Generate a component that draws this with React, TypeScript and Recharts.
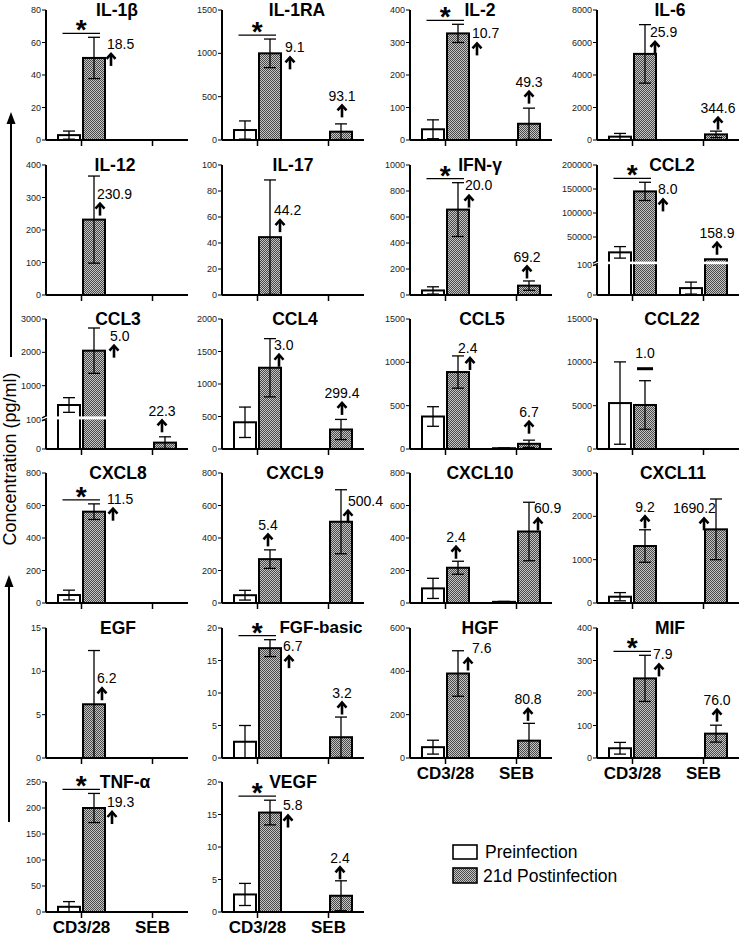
import { BarChart, Bar, XAxis, YAxis, ErrorBar } from 'recharts'

const FONT = 'Arial, "Liberation Sans", Helvetica, sans-serif'

const cytokines = [
  'IL-1β', 'IL-1RA', 'IL-2', 'IL-6',
  'IL-12', 'IL-17', 'IFN-γ', 'CCL2',
  'CCL3', 'CCL4', 'CCL5', 'CCL22',
  'CXCL8', 'CXCL9', 'CXCL10', 'CXCL11',
  'EGF', 'FGF-basic', 'HGF', 'MIF',
  'TNF-α', 'VEGF',
]
const stimuli = ['CD3/28', 'SEB']
const yMax = [80, 1500, 400, 8000, 400, 100, 1000, 200000, 3000, 2000, 1500, 15000, 800, 800, 800, 3000, 15, 20, 600, 400, 250, 20]
const yStep = [20, 500, 100, 2000, 100, 20, 200, 50000, 1000, 500, 500, 5000, 200, 200, 200, 1000, 5, 5, 200, 100, 50, 5]

// mean and SEM in pg/ml, null = nothing drawn
const preCD3 = [3, 115, 33, 205, null, null, 35, 18000, 420, 411, 375, 5300, 49, 48, 90, 145, null, 2.5, 50, 30, 10, 2.7]
const preCD3Err = [2.5, 105, 29, 200, null, null, 28, 12000, 220, 234, 113, 4750, 30, 30, 62, 95, null, 2.5, 32, 18, 10, 1.7]
const postCD3 = [50.5, 1000, 328, 5300, 232, 44.5, 657, 145000, 2050, 1250, 888, 5080, 562, 270, 217, 1315, 6.2, 16.9, 390, 245, 200, 15.3]
const postCD3Err = [12.7, 165, 28, 1800, 134, 44, 207, 19000, 680, 448, 186, 2800, 48, 57, 40, 375, 6.2, 1.3, 105, 71, 28, 1.9]
const preSEB = [null, null, null, null, null, null, null, 23, null, null, 9, null, null, null, 7, null, null, null, null, null, null, null]
const preSEBErr = [null, null, null, null, null, null, null, 20, null, null, 3, null, null, null, 3, null, null, null, null, null, null, null]
const postSEB = [null, 96, 50, 345, null, null, 72, 3650, 22, 300, 60, null, null, 500, 440, 1700, null, 3.2, 80, 75, null, 2.5]
const postSEBErr = [null, 90, 48, 200, null, null, 36, null, 20, 155, 42, null, null, 197, 180, 700, null, 3.1, 80, 26, null, 2.3]

// fold change labels and significance (CD3/28 pre vs post)
const foldCD3 = ['18.5', '9.1', '10.7', '25.9', '230.9', '44.2', '20.0', '8.0', '5.0', '3.0', '2.4', '1.0', '11.5', '5.4', '2.4', '9.2', '6.2', '6.7', '7.6', '7.9', '19.3', '5.8']
const foldSEB = [null, '93.1', '49.3', '344.6', null, null, '69.2', '158.9', '22.3', '299.4', '6.7', null, null, '500.4', '60.9', '1690.2', null, '3.2', '80.8', '76.0', null, '2.4']
const sigCD3 = [1, 1, 1, 0, 0, 0, 1, 1, 0, 0, 0, 0, 1, 0, 0, 0, 0, 1, 0, 1, 1, 1]

// broken y axes (CCL2, CCL3): values mapped to a 0..130 display axis
interface Break { lowMax: number; lowTop: number; upBase: number; top: number; upMax: number; gap: [number, number]; ticks: number[] }
const BROKEN: Record<number, Break> = {
  7: { lowMax: 100, lowTop: 30, upBase: 34, top: 130, upMax: 200000, gap: [30.8, 33.4], ticks: [0, 100, 50000, 100000, 150000, 200000] },
  8: { lowMax: 100, lowTop: 29, upBase: 30, top: 130, upMax: 3000, gap: [29.6, 32.6], ticks: [0, 100, 1000, 2000, 3000] },
}

// layout
const colAxisX = [46, 222, 410, 597]
const rowTopY = [10, 165, 319, 473, 628, 782]
const YW = 40
const MT = 14
const CW = 184
const CH = 174
const BAR_W = 22
const BAR_GAP = 3
const xLabelPanels = [18, 19, 20, 21]
const titleDx = [0, 4, -1, 2, -2, 0, -1, 4, 1, 2, 1, 4, 1, 2, -1, 5, 1, 28, -1, 2, 8, 0]

type Place = [string, number, number, number] | null
// [mode, dx, dy, arrow dx]; r = right of bar top, t = above error bar, d = dash
const placeCD3: Place[] = [
  ['r', 2, -14, 4], ['r', 4, -6, 5], ['r', 3, 0, 5], ['r', -6, -22, 5],
  ['r', -8, -26, 3], ['r', -7, -27, 6], ['r', -4, -24, 4], ['r', 2, -2, 5],
  ['r', 5, -15, 4], ['r', -7, -23, 5], ['r', -11, -24, 12], ['d', 0, 0, 0],
  ['r', 2, -13, 6], ['t', -2, 0, 0], ['t', -2, 1, 0], ['t', 0, 2, 0],
  ['r', -8, -26, 5], ['r', 2, -2, 6], ['r', 3, -25, -4], ['r', -3, -24, 6],
  ['r', 2, -6, 5], ['r', 2, -7, 5],
]
const placeSEB: Place[] = [
  null, ['t', 1, -3, 0], ['t', 0, -1, 0], ['t', 2, 2, 0],
  null, null, ['t', -2, 1, 0], ['t', 1, -1, 0],
  ['t', -3, -1, 0], ['t', 1, -1, 0], ['t', 0, -3, 0], null,
  null, ['r', -4, -21, 0], ['r', -6, -23, 4], ['r', -54, -21, 31],
  null, ['t', 1, 1, 0], ['t', -1, 1, 0], ['t', 1, 0, 0],
  null, ['t', -1, 2, 0],
]

type Row = { cat: string; pre: number | null; preErr: number[] | null; post: number | null; postErr: number[] | null }

function scaleFor(p: number) {
  const b = BROKEN[p]
  if (!b) return (v: number) => v
  return (v: number) => (v <= b.lowMax ? (v / b.lowMax) * b.lowTop : b.upBase + (v / b.upMax) * (b.top - b.upBase))
}

function rowsFor(p: number): Row[] {
  const f = scaleFor(p)
  const mk = (v: number | null, e: number | null): [number | null, number[] | null] => {
    if (v == null) return [null, null]
    const d = f(v)
    return [d, e == null ? null : [d - f(Math.max(v - e, 0)), f(v + e) - d]]
  }
  const [a, ae] = mk(preCD3[p], preCD3Err[p])
  const [b, be] = mk(postCD3[p], postCD3Err[p])
  const [c, ce] = mk(preSEB[p], preSEBErr[p])
  const [d, de] = mk(postSEB[p], postSEBErr[p])
  return [
    { cat: stimuli[0], pre: a, preErr: ae, post: b, postErr: be },
    { cat: stimuli[1], pre: c, preErr: ce, post: d, postErr: de },
  ]
}

function UpArrow({ cx, cy }: { cx: number; cy: number }) {
  return (
    <g stroke="#000" strokeWidth={2.6} fill="none">
      <line x1={cx} y1={cy + 6.5} x2={cx} y2={cy - 4.5} />
      <polyline points={`${cx - 4.5},${cy - 0.5} ${cx},${cy - 5.5} ${cx + 4.5},${cy - 0.5}`} />
    </g>
  )
}

function barShape(p: number, rows: Row[], key: 'pre' | 'post') {
  const brk = BROKEN[p]
  return (props: any) => {
    const { x, y, width, height, index } = props
    const row = rows[index]
    const v = row[key]
    if (v == null || !(height > 0)) return <g />
    const base = y + height
    const k = height / v
    const py = (d: number) => base - d * k
    const parts: any[] = [
      <rect key="r" x={x} y={y} width={width} height={height} fill={key === 'pre' ? '#fff' : 'url(#hatch)'} stroke="#000" strokeWidth={2} />,
    ]
    if (brk && v > brk.gap[0]) {
      parts.push(<rect key="g" x={x - 2} y={py(brk.gap[1])} width={width + 4} height={py(brk.gap[0]) - py(brk.gap[1])} fill="#fff" />)
    }
    if (key === 'post') {
      const err = row.postErr
      const errTop = py(v + (err ? err[1] : 0))
      const fold = index === 0 ? foldCD3[p] : foldSEB[p]
      const place = index === 0 ? placeCD3[p] : placeSEB[p]
      if (fold && place) {
        const [mode, dx, dy, adx] = place
        const txt = (tx: number, ty: number, anchor: string) => (
          <text key="t" x={tx} y={ty} dy="0.35em" textAnchor={anchor} fontSize={14} fontFamily={FONT} fill="#000">{fold}</text>
        )
        if (mode === 'r') {
          const lx = x + width + dx
          const cy = y + dy
          parts.push(txt(lx, cy, 'start'), <UpArrow key="a" cx={lx + adx} cy={cy + 15.5} />)
        } else if (mode === 't') {
          const cx = x + width / 2 + dx
          const acy = errTop - 10 + dy
          parts.push(txt(cx, acy - 15, 'middle'), <UpArrow key="a" cx={cx} cy={acy} />)
        } else {
          const cx = x + width / 2 + dx
          const dyy = errTop - 12 + dy
          parts.push(txt(cx, dyy - 16, 'middle'), <line key="a" x1={cx - 8} x2={cx + 8} y1={dyy} y2={dyy} stroke="#000" strokeWidth={3} />)
        }
      }
      if (index === 0 && sigCD3[p] && rows[0].pre != null) {
        const pe = rows[0].preErr
        const preTop = py((rows[0].pre as number) + (pe ? pe[1] : 0))
        const ly = Math.min(preTop, errTop) - 4
        const x0 = x - BAR_GAP - width + 4.5
        const x1 = x + width - 5
        parts.push(
          <line key="s" x1={x0} x2={x1} y1={ly} y2={ly} stroke="#000" strokeWidth={1.3} />,
          <text key="st" x={(x0 + x1) / 2} y={ly + 6} textAnchor="middle" fontSize={28} fontWeight="bold" fontFamily={FONT} fill="#000">*</text>,
        )
      }
    }
    return <g>{parts}</g>
  }
}

function yTick(labels: Map<number, string>, brk: number | null, gapPx: number) {
  return (props: any) => {
    const { y, payload } = props
    if (brk !== null && Math.abs(payload.value - brk) < 1e-6) {
      return (
        <g>
          <rect x={YW - 4} y={y - gapPx / 2} width={8} height={gapPx} fill="#fff" />
          <line x1={YW - 4} y1={y - gapPx / 2 + 1.5} x2={YW + 1} y2={y - gapPx / 2 - 1} stroke="#000" strokeWidth={1.2} />
          <line x1={YW - 4} y1={y + gapPx / 2 + 1.5} x2={YW + 1} y2={y + gapPx / 2 - 1} stroke="#000" strokeWidth={1.2} />
        </g>
      )
    }
    return (
      <g>
        <line x1={YW - 4} x2={YW} y1={y} y2={y} stroke="#000" strokeWidth={1} />
        <text x={YW - 5} y={y} dy="0.35em" textAnchor="end" fontSize={9} fill="#222" fontFamily={FONT}>
          {labels.get(payload.value)}
        </text>
      </g>
    )
  }
}

function Panel({ p }: { p: number }) {
  const col = p % 4
  const row = Math.floor(p / 4)
  const rows = rowsFor(p)
  const brk = BROKEN[p]
  const f = scaleFor(p)
  const tickVals: number[] = []
  if (brk) tickVals.push(...brk.ticks)
  else for (let v = 0; v <= yMax[p] + 1e-9; v += yStep[p]) tickVals.push(v)
  const labels = new Map(tickVals.map((v) => [f(v), String(v)] as [number, string]))
  const brkTick = brk ? (brk.gap[0] + brk.gap[1]) / 2 : null
  const ticks = tickVals.map(f)
  if (brkTick !== null) ticks.push(brkTick)
  const showX = xLabelPanels.includes(p)
  return (
    <div style={{ position: 'absolute', left: colAxisX[col] - YW, top: rowTopY[row] - MT }}>
      <BarChart width={CW} height={CH} data={rows} margin={{ top: MT, right: 2, bottom: 0, left: 0 }} barSize={BAR_W} barGap={BAR_GAP}>
        <XAxis
          dataKey="cat"
          height={30}
          interval={0}
          axisLine={{ stroke: '#000', strokeWidth: 2 }}
          tickLine={{ stroke: '#000', strokeWidth: 1.5 }}
          tickSize={6}
          tickMargin={3}
          tick={{ fontSize: 17, fontWeight: 'bold', fill: '#000', fontFamily: FONT }}
          tickFormatter={showX ? undefined : () => ''}
        />
        <YAxis
          type="number"
          domain={[0, brk ? brk.top : yMax[p]]}
          ticks={ticks}
          interval={0}
          width={YW}
          axisLine={{ stroke: '#000', strokeWidth: 2 }}
          tickLine={false}
          tick={yTick(labels, brkTick, brk ? brk.gap[1] - brk.gap[0] : 0)}
        />
        <Bar dataKey="pre" shape={barShape(p, rows, 'pre')} isAnimationActive={false}>
          <ErrorBar dataKey="preErr" width={6} stroke="#000" strokeWidth={1.3} />
        </Bar>
        <Bar dataKey="post" shape={barShape(p, rows, 'post')} isAnimationActive={false}>
          <ErrorBar dataKey="postErr" width={6} stroke="#000" strokeWidth={1.3} />
        </Bar>
      </BarChart>
    </div>
  )
}

function Overlay() {
  return (
    <svg width={740} height={936} style={{ position: 'absolute', left: 0, top: 0, pointerEvents: 'none' }}>
      <defs>
        <pattern id="hatch" width={2} height={2} patternUnits="userSpaceOnUse">
          <rect width={2} height={2} fill="#c4c4c4" />
          <rect width={1} height={1} fill="#4a4a4a" />
          <rect x={1} y={1} width={1} height={1} fill="#4a4a4a" />
        </pattern>
      </defs>
      {cytokines.map((name, p) => (
        <text
          key={name}
          x={colAxisX[p % 4] + 71 + titleDx[p]}
          y={rowTopY[Math.floor(p / 4)] + (p === 17 ? 5 : 6)}
          textAnchor="middle"
          fontSize={p === 17 ? 17 : 17.5}
          fontWeight="bold"
          fontFamily={FONT}
        >
          {name}
        </text>
      ))}
      <text transform="translate(9.5,459) rotate(-90)" dy="0.35em" textAnchor="middle" fontSize={18} fontFamily={FONT}>
        Concentration (pg/ml)
      </text>
      <line x1={11} y1={357} x2={11} y2={120} stroke="#000" strokeWidth={2} />
      <polygon points="11,112 6.5,124 15.5,124" fill="#000" />
      <line x1={9} y1={822} x2={9} y2={583} stroke="#000" strokeWidth={2} />
      <polygon points="9,575 4.5,587 13.5,587" fill="#000" />
      <rect x={453} y={845} width={24} height={14} fill="#fff" stroke="#000" strokeWidth={1.6} />
      <rect x={453} y={868} width={24} height={15} fill="url(#hatch)" stroke="#000" strokeWidth={1.6} />
      <text x={485} y={852} dy="0.35em" fontSize={17.5} fontFamily={FONT}>Preinfection</text>
      <text x={483} y={875.5} dy="0.35em" fontSize={17.5} fontFamily={FONT}>21d Postinfection</text>
    </svg>
  )
}

export default function App() {
  return (
    <div style={{ position: 'absolute', left: 0, top: 0, width: 740, height: 936, overflow: 'hidden', background: '#fff', fontFamily: FONT }}>
      <style>{'.recharts-surface{overflow:visible}'}</style>
      {cytokines.map((_, p) => (
        <Panel key={p} p={p} />
      ))}
      <Overlay />
    </div>
  )
}
